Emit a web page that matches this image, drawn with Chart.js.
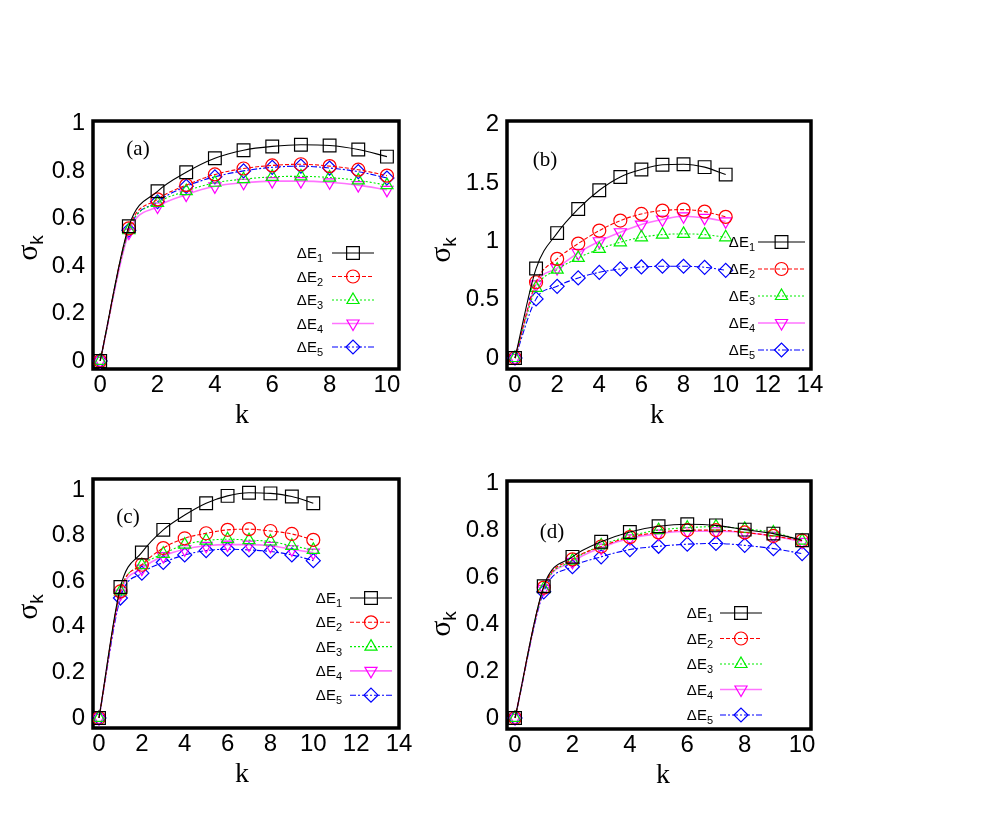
<!DOCTYPE html>
<html>
<head>
<meta charset="utf-8">
<script src="https://cdn.jsdelivr.net/npm/chart.js"></script>
<style>
  html, body { margin: 0; padding: 0; background: #fff; }
  #wrap { position: relative; width: 997px; height: 830px; overflow: hidden; }
  .panel { position: absolute; width: 420px; height: 360px; }
</style>
</head>
<body>
<div id="wrap">
  <div class="panel" style="left:0px;top:80px"><canvas id="chartA" width="420" height="360"></canvas></div>
  <div class="panel" style="left:420px;top:80px"><canvas id="chartB" width="420" height="360"></canvas></div>
  <div class="panel" style="left:0px;top:440px"><canvas id="chartC" width="420" height="360"></canvas></div>
  <div class="panel" style="left:420px;top:440px"><canvas id="chartD" width="420" height="360"></canvas></div>
</div>
<script>
// k values (x axis)
const kSteps = [0, 1, 2, 3, 4, 5, 6, 7, 8, 9, 10];
const seriesNames = ['1', '2', '3', '4', '5'];

// panel (a)
const aDE1 = [0, 0.567, 0.714, 0.794, 0.853, 0.887, 0.903, 0.910, 0.907, 0.890, 0.860];
const aDE2 = [0, 0.558, 0.680, 0.740, 0.785, 0.810, 0.823, 0.828, 0.820, 0.805, 0.780];
const aDE3 = [0, 0.550, 0.665, 0.715, 0.750, 0.765, 0.775, 0.777, 0.772, 0.760, 0.740];
const aDE4 = [0, 0.540, 0.650, 0.700, 0.735, 0.750, 0.757, 0.757, 0.752, 0.740, 0.720];
const aDE5 = [0, 0.550, 0.670, 0.735, 0.775, 0.800, 0.815, 0.820, 0.812, 0.797, 0.770];

// panel (b)
const bDE1 = [0, 0.766, 1.070, 1.277, 1.437, 1.551, 1.614, 1.655, 1.660, 1.635, 1.571];
const bDE2 = [0, 0.649, 0.849, 0.980, 1.091, 1.177, 1.234, 1.263, 1.271, 1.254, 1.209];
const bDE3 = [0, 0.600, 0.757, 0.857, 0.934, 0.991, 1.034, 1.057, 1.063, 1.057, 1.034];
const bDE4 = [0, 0.630, 0.770, 0.900, 1.000, 1.077, 1.143, 1.186, 1.214, 1.200, 1.170];
const bDE5 = [0, 0.506, 0.614, 0.686, 0.734, 0.763, 0.780, 0.786, 0.786, 0.777, 0.751];

// panel (c)
const cDE1 = [0, 0.574, 0.726, 0.825, 0.890, 0.942, 0.974, 0.988, 0.985, 0.971, 0.942];
const cDE2 = [0, 0.555, 0.672, 0.745, 0.788, 0.810, 0.825, 0.828, 0.820, 0.807, 0.781];
const cDE3 = [0, 0.555, 0.670, 0.720, 0.760, 0.778, 0.784, 0.780, 0.774, 0.755, 0.737];
const cDE4 = [0, 0.545, 0.655, 0.710, 0.740, 0.755, 0.760, 0.760, 0.755, 0.740, 0.725];
const cDE5 = [0, 0.526, 0.635, 0.682, 0.715, 0.734, 0.740, 0.737, 0.730, 0.715, 0.690];

// panel (d)
const dDE1 = [0, 0.561, 0.686, 0.750, 0.792, 0.816, 0.825, 0.820, 0.802, 0.785, 0.757];
const dDE2 = [0, 0.555, 0.675, 0.730, 0.770, 0.790, 0.800, 0.800, 0.790, 0.775, 0.755];
const dDE3 = [0, 0.550, 0.670, 0.735, 0.775, 0.800, 0.810, 0.815, 0.805, 0.790, 0.755];
const dDE4 = [0, 0.550, 0.665, 0.725, 0.765, 0.785, 0.795, 0.795, 0.790, 0.775, 0.750];
const dDE5 = [0, 0.537, 0.644, 0.686, 0.717, 0.731, 0.740, 0.743, 0.735, 0.721, 0.700];

// tick labels
const xTicks10 = [0, 2, 4, 6, 8, 10];
const xTicks14 = [0, 2, 4, 6, 8, 10, 12, 14];
const yTicks1 = [0, 0.2, 0.4, 0.6, 0.8, 1];
const yTicks2 = [0, 0.5, 1, 1.5, 2];

const TICK_FONT = "'Liberation Sans', Arial, sans-serif";
const SERIF = "'Liberation Serif', 'Times New Roman', serif";

const styles = [
    { color: '#000000', line: '#000000', dash: [], point: 'rect', radius: 9, rotation: 0 },
    { color: '#ff0000', line: '#ff0000', dash: [4, 2], point: 'circle', radius: 6.5, rotation: 0 },
    { color: '#00ee00', line: '#00ee00', dash: [2, 2], point: 'triangle', radius: 7, rotation: 0 },
    { color: '#ff00ff', line: 'rgba(255,0,255,0.55)', dash: [], point: 'triangle', radius: 7, rotation: 180 },
    { color: '#0000ff', line: '#0000ff', dash: [6, 2, 2, 2], point: 'rectRot', radius: 7, rotation: 0 }
];

function buildDatasets(seriesList) {
    return seriesList.map((vals, i) => ({
        label: 'ΔE' + seriesNames[i],
        data: kSteps.map((k, j) => ({ x: k, y: vals[j] })),
        borderColor: styles[i].line,
        backgroundColor: 'rgba(0,0,0,0)',
        borderWidth: i === 3 ? 1.6 : 1.1,
        borderDash: styles[i].dash,
        pointStyle: styles[i].point,
        pointRadius: styles[i].radius,
        pointRotation: styles[i].rotation,
        pointBorderWidth: 1.2,
        pointBorderColor: styles[i].color,
        pointBackgroundColor: 'rgba(0,0,0,0)',
        cubicInterpolationMode: 'monotone',
        fill: false,
        clip: false
    }));
}

// frame, panel tag, axis titles, legend
const decorPlugin = {
    id: 'decor',
    beforeDatasetsDraw(chart) {
        const a = chart.chartArea;
        const ctx = chart.ctx;
        ctx.save();
        ctx.strokeStyle = '#000';
        ctx.lineWidth = 3.5;
        ctx.strokeRect(a.left, a.top, a.right - a.left, a.bottom - a.top);
        ctx.restore();
    },
    afterDraw(chart) {
        const o = chart.options.plugins.decor;
        const ctx = chart.ctx;
        ctx.save();
        ctx.fillStyle = '#000';
        // panel tag
        ctx.font = '21px ' + SERIF;
        ctx.textAlign = 'center';
        ctx.textBaseline = 'middle';
        ctx.fillText(o.tag, o.tagX, o.tagY);
        // x title
        ctx.font = '28px ' + SERIF;
        ctx.fillText('k', o.kX, o.kY);
        // y title sigma_k rotated
        ctx.translate(o.sX, o.sY);
        ctx.rotate(-Math.PI / 2);
        ctx.textAlign = 'left';
        ctx.textBaseline = 'alphabetic';
        ctx.font = '30px ' + SERIF;
        const sw = ctx.measureText('σ').width;
        ctx.font = '19px ' + TICK_FONT;
        const kw = ctx.measureText('k').width;
        const x0 = -(sw + kw) / 2;
        ctx.font = '30px ' + SERIF;
        ctx.fillText('σ', x0, 8);
        ctx.font = '19px ' + TICK_FONT;
        ctx.fillText('k', x0 + sw, 14);
        ctx.restore();

        // legend
        const lg = o.legend;
        chart.data.datasets.forEach((ds, i) => {
            const y = lg.y0 + i * lg.dy;
            ctx.save();
            ctx.font = '11px ' + TICK_FONT;
            const subW = ctx.measureText(seriesNames[i]).width;
            ctx.fillStyle = '#000';
            ctx.textBaseline = 'alphabetic';
            ctx.textAlign = 'right';
            ctx.fillText(seriesNames[i], lg.textRight, y + 9);
            ctx.font = '15px ' + TICK_FONT;
            ctx.fillText('ΔE', lg.textRight - subW, y + 5);
            ctx.strokeStyle = ds.borderColor;
            ctx.lineWidth = ds.borderWidth;
            ctx.setLineDash(ds.borderDash);
            ctx.beginPath();
            ctx.moveTo(lg.x1, y);
            ctx.lineTo(lg.x2, y);
            ctx.stroke();
            ctx.setLineDash([]);
            ctx.lineWidth = 1.2;
            ctx.strokeStyle = ds.pointBorderColor;
            ctx.fillStyle = 'rgba(255,255,255,0)';
            Chart.helpers.drawPoint(ctx, {
                pointStyle: ds.pointStyle,
                radius: ds.pointRadius,
                rotation: ds.pointRotation,
                borderWidth: 1.2
            }, (lg.x1 + lg.x2) / 2, y);
            ctx.restore();
        });
    }
};

function makeChart(id, seriesList, p) {
    const ctx = document.getElementById(id).getContext('2d');
    return new Chart(ctx, {
        type: 'line',
        data: { datasets: buildDatasets(seriesList) },
        plugins: [decorPlugin],
        options: {
            responsive: false,
            animation: false,
            events: [],
            layout: { padding: { left: 0, top: p.padTop, right: p.padRight, bottom: 0 } },
            plugins: {
                legend: { display: false },
                tooltip: { enabled: false },
                decor: p.decor
            },
            scales: {
                x: {
                    type: 'linear',
                    min: p.xMin, max: p.xMax,
                    grid: { display: false, drawTicks: false },
                    border: { display: false },
                    afterBuildTicks: s => { s.ticks = p.xTicks.map(v => ({ value: v })); },
                    afterFit: s => { s.height = p.xHeight; },
                    ticks: {
                        padding: 2,
                        color: '#000',
                        font: { family: TICK_FONT, size: 24 },
                        maxRotation: 0,
                        callback: v => String(v)
                    }
                },
                y: {
                    type: 'linear',
                    min: p.yMin, max: p.yMax,
                    grid: { display: false, drawTicks: false },
                    border: { display: false },
                    afterBuildTicks: s => { s.ticks = p.yTicks.map(v => ({ value: v })); },
                    afterFit: s => { s.width = p.yWidth; },
                    ticks: {
                        padding: 8,
                        color: '#000',
                        font: { family: TICK_FONT, size: 24 },
                        callback: v => String(v)
                    }
                }
            }
        }
    });
}

makeChart('chartA', [aDE1, aDE2, aDE3, aDE4, aDE5], {
    padTop: 41, padRight: 21, yWidth: 93, xHeight: 71,
    xMin: -0.25, xMax: 10.42, yMin: -0.034, yMax: 1.01,
    xTicks: xTicks10, yTicks: yTicks1,
    decor: {
        tag: '(a)', tagX: 138, tagY: 69, kX: 242, kY: 336, sX: 29, sY: 168,
        legend: { textRight: 323, x1: 332, x2: 374, y0: 173, dy: 23.5 }
    }
});

makeChart('chartB', [bDE1, bDE2, bDE3, bDE4, bDE5], {
    padTop: 41, padRight: 29, yWidth: 87, xHeight: 71,
    xMin: -0.38, xMax: 14.05, yMin: -0.094, yMax: 2.03,
    xTicks: xTicks14, yTicks: yTicks2,
    decor: {
        tag: '(b)', tagX: 125, tagY: 80, kX: 237, kY: 336, sX: 22, sY: 170,
        legend: { textRight: 335, x1: 338, x2: 385, y0: 162, dy: 27 }
    }
});

makeChart('chartC', [cDE1, cDE2, cDE3, cDE4, cDE5], {
    padTop: 39, padRight: 21, yWidth: 93, xHeight: 72,
    xMin: -0.28, xMax: 14, yMin: -0.044, yMax: 1.048,
    xTicks: xTicks14, yTicks: yTicks1,
    decor: {
        tag: '(c)', tagX: 128, tagY: 77, kX: 242, kY: 335, sX: 29, sY: 167,
        legend: { textRight: 342, x1: 350, x2: 392, y0: 158, dy: 24.3 }
    }
});

makeChart('chartD', [dDE1, dDE2, dDE3, dDE4, dDE5], {
    padTop: 41, padRight: 29, yWidth: 87, xHeight: 71,
    xMin: -0.28, xMax: 10.31, yMin: -0.047, yMax: 1.009,
    xTicks: xTicks10, yTicks: yTicks1,
    decor: {
        tag: '(d)', tagX: 132, tagY: 92, kX: 243, kY: 336, sX: 22, sY: 184,
        legend: { textRight: 293, x1: 300, x2: 342, y0: 173, dy: 25.5 }
    }
});
</script>
</body>
</html>
